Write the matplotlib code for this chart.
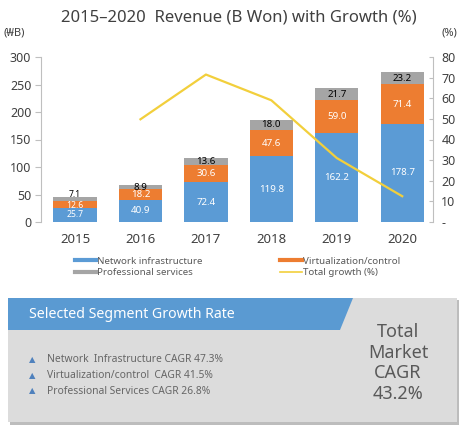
import matplotlib
matplotlib.use('Agg')
import matplotlib.pyplot as plt
from matplotlib.patches import Rectangle, Polygon
import numpy as np

plt.rcParams['font.family'] = ['Noto Sans', 'DejaVu Sans']

# chart data
years = ['2015', '2016', '2017', '2018', '2019', '2020']
network = [25.7, 40.9, 72.4, 119.8, 162.2, 178.7]
virtual = [12.6, 18.2, 30.6, 47.6, 59.0, 71.4]
services = [7.1, 8.9, 13.6, 18.0, 21.7, 23.2]
growth = [np.nan, 49.8, 71.5, 59.0, 31.0, 12.5]

left_ticks = [0, 50, 100, 150, 200, 250, 300]
right_ticks = [0, 10, 20, 30, 40, 50, 60, 70, 80]
right_labels = ['-', '10', '20', '30', '40', '50', '60', '70', '80']

segments = ['Network  Infrastructure CAGR 47.3%',
            'Virtualization/control  CAGR 41.5%',
            'Professional Services CAGR 26.8%']
total_cagr = ['Total', 'Market', 'CAGR', '43.2%']

BLUE = '#5B9BD5'
ORANGE = '#ED7D31'
GRAY = '#A5A5A5'
YELLOW = '#F2CF3C'
TXT = '#404040'

W, H = 465, 429
fig = plt.figure(figsize=(W / 100, H / 100), dpi=100)


def fx(px):
    return px / W


def fy(py):
    return 1 - py / H


ax = fig.add_axes([fx(41), fy(222), fx(433) - fx(41), fy(57) - fy(222)])
x = np.arange(len(years))
bw = 0.66
b1 = ax.bar(x, network, bw, color=BLUE)
b2 = ax.bar(x, virtual, bw, bottom=network, color=ORANGE)
bottom3 = np.array(network) + np.array(virtual)
b3 = ax.bar(x, services, bw, bottom=bottom3, color=GRAY)

# the 2015 bar is short, so its labels get a smaller size
sizes = [6.2, 7, 7, 7, 7, 7]
label_sets = []
for bars, vals, col in [(b1, network, 'white'), (b2, virtual, 'white'),
                        (b3, services, 'black')]:
    txts = ax.bar_label(bars, labels=[f'{v:.1f}' for v in vals],
                        label_type='center', color=col, fontsize=7,
                        fontweight='bold')
    for t, s in zip(txts, sizes):
        t.set_fontsize(s)
    label_sets.append(txts)
# spread the crowded 2015 labels a little
label_sets[2][0].xyann = (0, 3)
label_sets[1][0].xyann = (0, -1)

ax.set_xlim(-0.52, 5.47)
ax.set_ylim(0, 300)
ax.set_yticks(left_ticks)
ax.set_xticks(x)
ax.set_xticklabels(years, fontsize=9.5, color=TXT)
ax.tick_params(axis='x', length=0, pad=8)
ax.tick_params(axis='y', direction='out', length=4, color='#BFBFBF',
               labelsize=9, labelcolor=TXT, pad=3)
for s in ['top', 'right', 'bottom']:
    ax.spines[s].set_visible(False)
ax.spines['left'].set_color('#BFBFBF')

ax2 = ax.twinx()
ax2.plot(x, growth, color=YELLOW, lw=1.6)
ax2.set_ylim(0, 80)
ax2.set_yticks(right_ticks)
ax2.set_yticklabels(right_labels)
ax2.tick_params(axis='y', direction='in', length=3, color='#BFBFBF',
                labelsize=9, labelcolor=TXT, pad=6)
for s in ['top', 'left', 'bottom']:
    ax2.spines[s].set_visible(False)
ax2.spines['right'].set_color('#BFBFBF')

fig.text(fx(239), fy(18), '2015\u20132020  Revenue (B Won) with Growth (%)',
         ha='center', va='center', fontsize=12, color='#404040')
fig.text(fx(3), fy(33), '(\u20a9B)', ha='left', va='center', fontsize=8, color=TXT)
fig.text(fx(457), fy(33), '(%)', ha='right', va='center', fontsize=8, color=TXT)

# legend
handles = [plt.Line2D([], [], color=BLUE, lw=3),
           plt.Line2D([], [], color=GRAY, lw=3),
           plt.Line2D([], [], color=ORANGE, lw=3),
           plt.Line2D([], [], color=YELLOW, lw=1.2)]
names = ['Network infrastructure', 'Professional services',
         'Virtualization/control', 'Total growth (%)']
fig.legend(handles, names, ncol=2, loc='upper left',
           bbox_to_anchor=(fx(66), fy(248)), frameon=False, fontsize=7,
           labelcolor='#595959', handlelength=2.2, handletextpad=0.1,
           columnspacing=8.0, labelspacing=0.25)

# bottom panel
fig.add_artist(Rectangle((fx(10), fy(425)), fx(449), fy(300) - fy(425),
                         transform=fig.transFigure, color='#BDBDBD', lw=0))
fig.add_artist(Rectangle((fx(8), fy(422)), fx(449), fy(298) - fy(422),
                         transform=fig.transFigure, color='#DCDCDC', lw=0))
fig.add_artist(Polygon([(fx(8), fy(298)), (fx(353), fy(298)),
                        (fx(340), fy(330)), (fx(8), fy(330))],
                       closed=True, transform=fig.transFigure,
                       color='#5A9AD2', lw=0))
fig.text(fx(29), fy(314), 'Selected Segment Growth Rate', ha='left',
         va='center', fontsize=10.2, color='white')

for i, s in enumerate(segments):
    yy = 360 + i * 15.5
    fig.text(fx(32), fy(yy), '\u25b2', ha='center', va='center',
             fontsize=6, color='#4F81BD')
    fig.text(fx(47), fy(yy), s, ha='left', va='center', fontsize=7.4,
             color='#666666')

for i, s in enumerate(total_cagr):
    fig.text(fx(398), fy(332 + i * 20.7), s, ha='center', va='center',
             fontsize=13, color='#595959')

fig.savefig('out.png', dpi=100, facecolor='white')
